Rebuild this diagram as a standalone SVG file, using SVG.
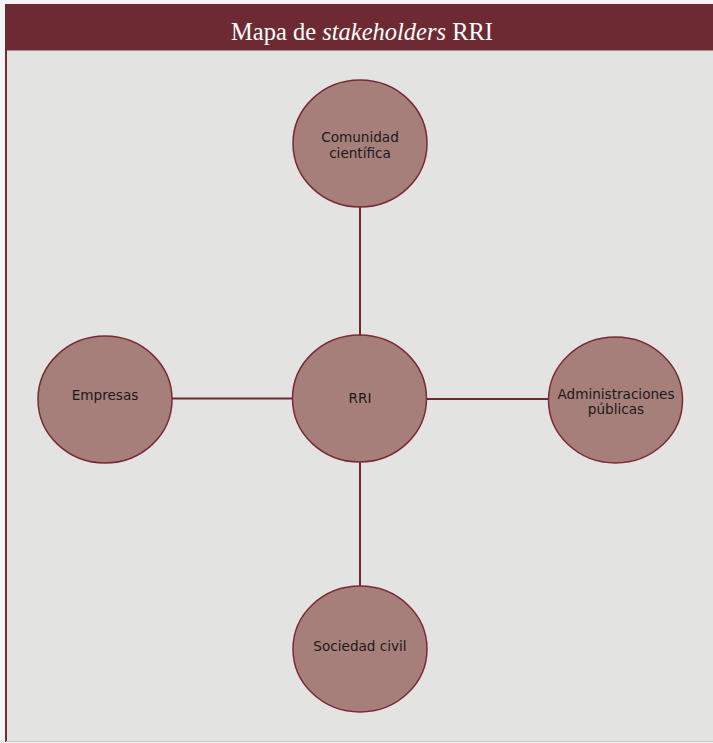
<svg xmlns="http://www.w3.org/2000/svg" width="713" height="743" viewBox="0 0 713 743">
<style>
.node ellipse{fill:#a67f7b;stroke:#7a2a35;stroke-width:1.5}
.node text{font-family:"DejaVu Sans",Verdana,sans-serif;font-size:13.6px;fill:#1a1a1a;text-anchor:middle}
.conn line{stroke:#6e2a32;stroke-width:2}
</style>
<rect x="0" y="0" width="713" height="743" fill="#f4f4f4"/>
<rect x="6" y="50" width="707" height="691" fill="#e3e3e1"/>
<line x1="6" y1="4" x2="6" y2="742" stroke="#7a2a35" stroke-width="2"/>
<line x1="6" y1="741.5" x2="713" y2="741.5" stroke="#c9c3c4" stroke-width="1"/>
<rect x="5" y="4" width="708" height="46" fill="#6e2a32"/>
<line x1="7" y1="50.5" x2="713" y2="50.5" stroke="#b08a8e" stroke-width="1"/>
<text x="362" y="40" font-family="'Liberation Serif','Times New Roman',serif" font-size="24.5" fill="#ffffff" text-anchor="middle">Mapa de <tspan font-style="italic">stakeholders</tspan> RRI</text>
<g class="conn">
<line x1="360" y1="207" x2="360" y2="336"/>
<line x1="360" y1="461" x2="360" y2="587"/>
<line x1="172" y1="398.5" x2="293" y2="398.5"/>
<line x1="426" y1="399" x2="549" y2="399"/>
</g>
<g id="comunidad" class="node">
<ellipse cx="360" cy="143.5" rx="67" ry="63.5"/>
<text x="360" y="142">Comunidad</text>
<text x="360" y="158">científica</text>
</g>
<g id="rri" class="node">
<ellipse cx="359.5" cy="398.5" rx="67" ry="63.5"/>
<text x="360" y="403">RRI</text>
</g>
<g id="empresas" class="node">
<ellipse cx="105" cy="399.5" rx="67" ry="63.5"/>
<text x="105" y="400">Empresas</text>
</g>
<g id="administraciones" class="node">
<ellipse cx="615.5" cy="400" rx="67" ry="63"/>
<text x="616" y="399">Administraciones</text>
<text x="616" y="414">públicas</text>
</g>
<g id="sociedad" class="node">
<ellipse cx="360" cy="649" rx="67" ry="63"/>
<text x="360" y="651">Sociedad civil</text>
</g>
</svg>
